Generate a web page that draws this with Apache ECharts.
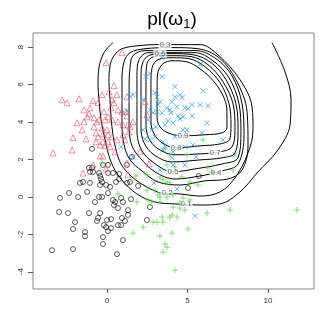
<!DOCTYPE html>
<html>
<head>
<meta charset="utf-8">
<script src="https://cdn.jsdelivr.net/npm/echarts@6/dist/echarts.min.js"></script>
<style>
  html, body { margin: 0; padding: 0; background: #fff; }
  #main { width: 332px; height: 332px; }
</style>
</head>
<body>
<div id="main"></div>
<script>
var xTicks = [0, 5, 10];
var yTicks = [-4, -2, 0, 2, 4, 6, 8];

// class 1 : circles
var circlePts = [
  [-0.93,2.57],[-0.25,1.71],[0.06,1.71],[1.24,1.71],[1.55,2.14],[-1.12,1.55],[-0.93,1.55],[-0.87,1.34],
  [-1.06,1.34],[-0.43,1.12],[-0.37,0.96],[-0.31,0.80],[-0.43,0.64],[-0.50,1.28],[0.06,1.28],[0.37,1.28],
  [0.75,1.23],[-0.06,0.64],[0.19,0.54],[0.56,0.80],[0.75,0.96],[1.24,0.75],[1.43,0.80],[-1.68,0.75],
  [-1.49,0.80],[-1.06,0.75],[-2.92,-0.05],[-2.36,0.21],[-1.80,0],[-1.24,0.27],[-0.75,-0.27],[-0.50,0],
  [-0.31,0],[0.06,0.21],[0.37,-0.16],[0.50,-0.27],[0.43,-0.43],[0.87,-0.05],[0.99,-0.27],[0.68,-0.59],
  [1.49,-0.11],[1.93,0.59],[2.67,-0.54],[1.30,-0.70],[-2.98,-0.80],[-2.42,-0.86],[-1.12,-0.86],[-0.43,-0.86],
  [-1.99,-1.34],[-0.56,-1.12],[-0.62,-1.28],[0,-1.23],[0.25,-1.18],[0.93,-1.12],[1.12,-1.28],[1.30,-0.96],
  [2.48,-1.23],[-0.19,-1.50],[-0.06,-1.61],[0.25,-1.66],[0.06,-1.82],[0.68,-1.50],[0.87,-1.50],[-2.11,-1.71],
  [-1.37,-1.87],[-1.37,-2.09],[-0.25,-2.14],[0.99,-2.30],[-0.25,-2.51],[-3.42,-2.84],[-2.11,-2.78],[0.62,-3.05],
  [5.03,0.48],[5.71,1.12]
];

// class 2 : triangles
var trianglePts = [
  [-0.06,7.17],[0.93,7.70],[-0.31,5.46],[0.12,5.62],[0.43,5.94],[0.62,5.46],[-2.79,5.19],[-2.48,5.03],
  [-1.74,5.24],[-0.87,5.14],[-1.06,4.76],[-1.43,4.65],[-0.56,5.03],[0.31,5.19],[0.43,5.03],[0.25,4.76],
  [0.68,4.65],[0.93,4.55],[1.24,5.35],[1.18,4.55],[-1.12,4.44],[-1.24,4.28],[-0.81,4.23],[-1.43,4.01],
  [-1.86,3.96],[-1.55,3.58],[-0.19,4.55],[-0.50,4.12],[-0.62,4.01],[-0.12,4.12],[0.06,4.28],[0.31,4.12],
  [0.68,4.01],[0.99,3.85],[1.24,4.33],[1.30,3.85],[-0.81,3.75],[-0.31,3.69],[0,3.58],[-0.68,3.42],
  [-0.25,3.37],[0.06,3.32],[-0.56,3.21],[0.31,3.21],[0.99,3.32],[1.37,3.48],[-2.11,3.16],[-1.30,3.10],
  [-0.25,2.94],[-0.68,2.94],[0.06,2.94],[0.62,3.05],[1.12,3.05],[-0.43,2.78],[-0.12,2.73],[0.19,2.68],
  [-2.17,2.51],[-3.35,2.35],[-0.43,2.19],[-0.25,2.19],[2.05,2.41],[-0.87,1.71],[-1.49,1.28],[-0.06,1.50],
  [1.24,1.82],[1.30,1.18],[2.61,1.77],[0.50,2.41],[1.61,4.01],[1.43,3.75],[2.36,5.08],[2.48,4.39]
];

// class 3 : plus
var plusPts = [
  [-0.31,1.82],[0.68,0.16],[1.80,1.12],[1.86,-0.27],[2.48,1.18],[2.48,0.37],[2.55,-0.16],[2.79,-0.27],
  [2.98,0.37],[2.86,-1.34],[3.17,0.11],[3.29,1.07],[3.29,0],[3.29,-0.27],[3.48,0.91],[3.73,1.71],
  [3.73,0.80],[3.73,0],[3.91,0.75],[4.10,0.11],[4.22,1.60],[4.66,1.07],[4.97,2.25],[5.16,0.80],
  [5.65,0.64],[4.72,-0.05],[5.16,-0.16],[4.53,-0.32],[4.10,-0.54],[4.53,-0.59],[4.84,-0.70],[4.04,-0.96],
  [3.91,-1.07],[3.42,-1.07],[3.48,-1.34],[2.24,-1.61],[4.35,-1.07],[6.21,-0.86],[7.64,-0.70],[11.80,-0.70],
  [5.03,-1.71],[4.04,-1.93],[3.29,-2.09],[1.61,-1.93],[3.60,-2.51],[3.73,-2.68],[3.48,-2.94],[4.22,-3.91],
  [5.96,3.05],[3.60,2.57],[3.91,2.25],[6.27,1.55],[7.83,1.44],[6.52,1.34],[3.11,-1.34]
];

// class 4 : crosses
var crossPts = [
  [3.42,7.44],[5.78,7.06],[2.67,6.58],[3.42,6.42],[2.42,6.42],[4.22,5.89],[4.53,5.46],[4.22,5.35],
  [5.96,5.67],[2.98,5.56],[1.43,5.35],[1.61,5.46],[2.24,5.19],[3.11,5.35],[3.29,5.08],[3.17,4.92],
  [4.04,5.08],[4.35,4.82],[4.84,4.76],[5.03,4.71],[5.28,4.92],[5.78,4.92],[6.27,4.87],[3.73,4.76],
  [3.91,4.65],[2.67,4.65],[1.24,4.60],[3.11,4.55],[3.42,4.49],[2.86,4.49],[3.97,4.49],[4.41,4.33],
  [4.72,4.28],[4.53,4.17],[2.55,4.12],[3.79,4.07],[4.10,3.96],[3.60,3.85],[3.04,3.75],[5.28,4.33],
  [6.21,3.96],[2.79,3.58],[2.24,3.58],[4.72,3.58],[4.97,3.58],[5.90,3.42],[4.22,3.21],[2.36,3.10],
  [2.67,3.05],[2.98,3.21],[3.48,2.94],[7.20,3.05],[4.84,2.68],[5.34,2.78],[0.87,2.68],[3.60,2.73],
  [1.61,2.14],[3.48,2.51],[4.10,2.41],[5.53,2.14],[7.95,2.25],[4.84,1.71],[4.10,1.71],[3.29,1.44],
  [2.92,0.75],[4.35,0.43],[5.47,-1.02],[4.04,2.09],[4.66,5.30]
];

// contour lines (x, y)
var lev01 = [[0.37,8.24],[-0.19,7.70],[-0.50,6.90],[-0.56,5.99],[-0.50,5.19],[-0.37,4.12],[-0.12,3.05],
  [0.25,1.87],[0.87,0.96],[1.86,0.16],[2.98,-0.27],[4.22,-0.37],[5.78,-0.43],[7.02,-0.37],[8.26,0.27],
  [9.38,1.34],[10.62,2.51],[11.37,3.85],[11.43,5.19],[11.06,6.68],[10.25,8.24]];
var lev02 = [[3.29,0.21],[2.48,0.53],[1.55,1.07],[0.87,1.76],[0.56,2.51],[0.37,3.32],[0.25,4.22],
  [0.19,5.19],[0.12,6.15],[0.19,7.01],[0.43,7.54],[0.93,7.91],[1.93,8.07],[2.98,8.13],[4.53,8.13],
  [5.78,8.13],[6.89,7.59],[8.26,6.26],[9.01,4.81],[9.07,3.58],[8.76,2.35],[7.95,1.02],[7.02,0.27],
  [5.78,0.05],[4.53,0.16],[3.29,0.21]];
var lev03 = [[0.93,5.19],[0.93,3.85],[1.06,2.78],[1.43,1.98],[2.17,1.39],[3.17,0.80],[4.53,0.64],
  [6.09,0.86],[7.52,0.96],[8.39,1.44],[8.76,2.78],[8.70,4.55],[8.01,6.26],[6.96,7.43],[5.65,7.91],
  [4.04,7.97],[2.36,7.91],[1.43,7.70],[1.06,7.22],[0.93,6.26],[0.93,5.19]];
var lev04 = [[1.37,5.19],[1.37,3.69],[1.55,2.73],[2.05,2.09],[2.98,1.34],[4.22,0.96],[5.78,1.12],
  [7.14,1.39],[8.14,1.76],[8.51,3.32],[8.39,4.97],[7.76,6.47],[6.77,7.38],[5.53,7.81],[4.04,7.81],
  [2.36,7.81],[1.61,7.54],[1.43,6.90],[1.37,5.99],[1.37,5.19]];
var lev05 = [[1.86,5.19],[1.86,3.58],[2.05,2.67],[2.67,1.98],[4.10,1.34],[5.47,1.50],[7.14,1.76],
  [8.14,2.09],[8.32,3.48],[8.20,4.97],[7.58,6.36],[6.58,7.27],[5.47,7.70],[4.04,7.70],[2.55,7.70],
  [1.99,7.33],[1.86,6.47],[1.86,5.19]];
var lev06 = [[2.11,5.19],[2.11,3.69],[2.30,2.89],[2.92,2.25],[4.04,1.87],[5.78,1.98],[7.14,2.09],
  [7.95,2.35],[8.14,3.58],[8.01,4.97],[7.39,6.26],[6.46,7.17],[5.34,7.59],[4.04,7.65],[2.73,7.59],
  [2.24,7.22],[2.11,6.36],[2.11,5.19]];
var lev07 = [[2.42,5.19],[2.42,3.85],[2.61,3.10],[3.17,2.57],[4.22,2.25],[5.78,2.30],[7.02,2.41],
  [7.76,2.67],[7.95,3.69],[7.83,4.97],[7.20,6.15],[6.27,7.06],[5.22,7.49],[4.04,7.54],[2.92,7.49],
  [2.48,7.11],[2.42,6.26],[2.42,5.19]];
var lev08 = [[2.73,5.19],[2.73,4.01],[2.92,3.37],[3.42,2.89],[4.29,2.62],[5.78,2.73],[7.02,2.83],
  [7.64,3.10],[7.70,3.85],[7.58,4.97],[7.02,6.10],[6.09,6.95],[5.09,7.38],[4.04,7.43],[3.17,7.33],
  [2.80,6.90],[2.73,6.15],[2.73,5.19]];
var lev09 = [[3.11,5.19],[3.11,4.22],[3.29,3.74],[3.79,3.42],[4.66,3.26],[6.09,3.32],[7.14,3.42],
  [7.45,3.69],[7.45,4.55],[7.27,5.29],[6.65,6.15],[5.78,6.84],[4.91,7.22],[4.04,7.27],[3.48,7.11],
  [3.17,6.68],[3.11,5.99],[3.11,5.19]];
var contourLines = [lev01, lev02, lev03, lev04, lev05, lev06, lev07, lev08, lev09];

var contourLabels = [
  {name: '0.3', value: [3.60, 8.11]},
  {name: '0.6', value: [3.29, 7.63]},
  {name: '0.9', value: [4.72, 3.26]},
  {name: '0.8', value: [4.29, 2.62]},
  {name: '0.7', value: [6.71, 2.35]},
  {name: '0.5', value: [4.10, 1.34]},
  {name: '0.4', value: [6.77, 1.28]},
  {name: '0.2', value: [3.73, 0.21]},
  {name: '0.1', value: [4.91, -0.37]}
];

var myChart = echarts.init(document.getElementById('main'));

var series = [];
for (var i = 0; i < contourLines.length; i++) {
  series.push({
    type: 'line',
    data: contourLines[i],
    smooth: 0.35,
    showSymbol: false,
    silent: true,
    z: 2,
    lineStyle: {color: '#000', width: 1}
  });
}
series.push({
  type: 'scatter',
  data: contourLabels,
  symbolSize: 0,
  z: 3,
  label: {
    show: true,
    position: 'inside',
    formatter: '{b}',
    fontFamily: 'Liberation Sans',
    fontSize: 8,
    color: '#444',
    backgroundColor: '#fff',
    padding: [0, 1]
  }
});
series.push({
  type: 'scatter', data: circlePts, symbol: 'circle', symbolSize: 5, z: 4,
  itemStyle: {color: 'transparent', borderColor: '#000', borderWidth: 0.8}
});
series.push({
  type: 'scatter', data: trianglePts, symbol: 'triangle', symbolSize: 6, z: 4,
  itemStyle: {color: 'transparent', borderColor: '#DF536B', borderWidth: 0.8}
});
series.push({
  type: 'scatter', data: plusPts, symbol: 'path://M0,5L10,5M5,0L5,10', symbolSize: 6, z: 4,
  itemStyle: {color: 'transparent', borderColor: '#61D04F', borderWidth: 0.9}
});
series.push({
  type: 'scatter', data: crossPts, symbol: 'path://M0,0L10,10M10,0L0,10', symbolSize: 5, z: 4,
  itemStyle: {color: 'transparent', borderColor: '#2297E6', borderWidth: 0.9}
});

var option = {
  animation: false,
  backgroundColor: '#fff',
  graphic: [{
    type: 'text',
    x: 172,
    y: 20,
    style: {
      text: '{a|pl(ω}{s|1}{a|)}',
      align: 'center',
      verticalAlign: 'middle',
      rich: {
        a: {fontFamily: 'Liberation Sans', fontSize: 19, fill: '#000'},
        s: {fontFamily: 'Liberation Sans', fontSize: 13, fill: '#000', padding: [9, 0, 0, 0]}
      }
    }
  }],
  grid: {
    left: 33, right: 18, top: 33, bottom: 43,
    show: true, borderColor: '#888', borderWidth: 1
  },
  xAxis: {
    type: 'value',
    min: -4.6, max: 12.86,
    axisLine: {show: false, onZero: false},
    splitLine: {show: false},
    axisTick: {show: true, length: 4, customValues: xTicks, lineStyle: {color: '#555'}},
    axisLabel: {customValues: xTicks, margin: 8, fontFamily: 'Liberation Sans', fontSize: 8, color: '#333'}
  },
  yAxis: {
    type: 'value',
    min: -4.91, max: 8.75,
    axisLine: {show: false, onZero: false},
    splitLine: {show: false},
    axisTick: {show: true, length: 5, customValues: yTicks, lineStyle: {color: '#555'}},
    axisLabel: {customValues: yTicks, rotate: 90, margin: 8, fontFamily: 'Liberation Sans', fontSize: 8, color: '#333'}
  },
  series: series
};
myChart.setOption(option);
</script>
</body>
</html>
